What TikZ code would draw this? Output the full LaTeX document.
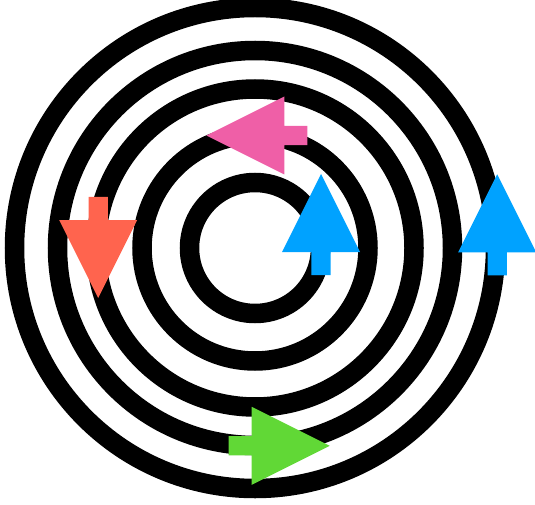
\documentclass[tikz,border=0pt]{standalone}
\usepackage{tikz}
\usepackage{xcolor}
\definecolor{Flow_Blue}{HTML}{00A2FF}
\definecolor{Flow_Pink}{HTML}{EF5FA7}
\definecolor{Flow_Orange}{HTML}{FF644E}
\definecolor{Flow_Green}{HTML}{61D836}

\begin{document}
\begin{tikzpicture}[x=1pt, y=-1pt, ring/.style={draw=black, line width=19.5pt}]
    \useasboundingbox (0,0) rectangle (535,505);
    \coordinate (c) at (255,248);

    % ===== Rings =====
    \draw[ring] (c) circle (65.5pt);
    \draw[ring] (c) circle (113pt);
    \draw[ring] (c) circle (159pt);
    \draw[ring] (c) circle (197.5pt);
    \draw[ring] (c) circle (240.5pt);

    % ===== Inner arrow (up) =====
    \begin{scope}[shift={(321,252)}, rotate=90]
        \fill[Flow_Blue] (-23,-9.6) -- (0,-9.6) -- (0,-39) -- (78,0) -- (0,39) -- (0,9.6) -- (-23,9.6) -- cycle;
    \end{scope}

    % ===== Top arrow (left) =====
    \begin{scope}[shift={(284.3,135.5)}, rotate=180]
        \fill[Flow_Pink] (-23,-9.6) -- (0,-9.6) -- (0,-39) -- (78,0) -- (0,39) -- (0,9.6) -- (-23,9.6) -- cycle;
    \end{scope}

    % ===== Left arrow (down) =====
    \begin{scope}[shift={(98.2,220)}, rotate=270]
        \fill[Flow_Orange] (-23,-9.6) -- (0,-9.6) -- (0,-39) -- (78,0) -- (0,39) -- (0,9.6) -- (-23,9.6) -- cycle;
    \end{scope}

    % ===== Bottom arrow (right) =====
    \begin{scope}[shift={(251.7,445.8)}]
        \fill[Flow_Green] (-23,-9.6) -- (0,-9.6) -- (0,-39) -- (78,0) -- (0,39) -- (0,9.6) -- (-23,9.6) -- cycle;
    \end{scope}

    % ===== Outer arrow (up) =====
    \begin{scope}[shift={(497.2,252.3)}, rotate=90]
        \fill[Flow_Blue] (-23,-9.6) -- (0,-9.6) -- (0,-39) -- (78,0) -- (0,39) -- (0,9.6) -- (-23,9.6) -- cycle;
    \end{scope}
\end{tikzpicture}
\end{document}
